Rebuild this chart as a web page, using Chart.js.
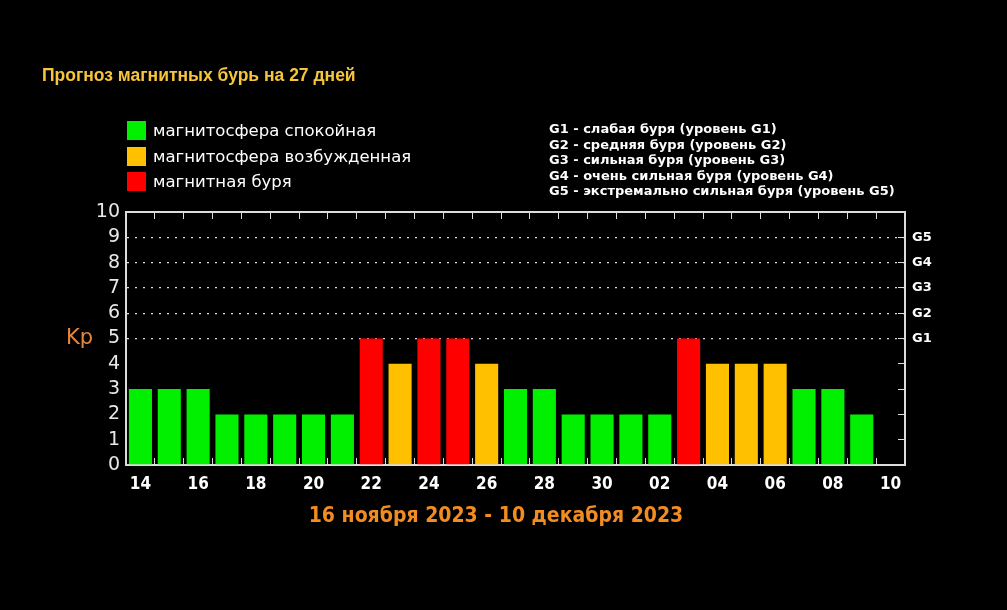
<!DOCTYPE html>
<html>
<head>
<meta charset="utf-8">
<script src="https://cdn.jsdelivr.net/npm/chart.js"></script>
<style>
  html, body { margin: 0; padding: 0; background: #000; }
  #wrap { position: relative; width: 1007px; height: 610px; overflow: hidden; background: #000; }
  #chart { position: absolute; left: 0; top: 0; }
  .title { position: absolute; left: 42px; top: 65px; color: #f7c53c; font: bold 17.5px "Liberation Sans", Arial, sans-serif; }
  .legend { position: absolute; left: 127px; top: 120px; color: #fff; font: 16.5px "DejaVu Sans", Verdana, sans-serif; }
  .legend div { height: 25.5px; line-height: 21px; white-space: nowrap; }
  .legend span { display: inline-block; width: 19px; height: 19px; vertical-align: -4px; margin-right: 7px; }
  .glegend { position: absolute; left: 549px; top: 121px; color: #fff; font: bold 13px "DejaVu Sans", Verdana, sans-serif; line-height: 15.5px; white-space: nowrap; }
  .kp { position: absolute; left: 66px; top: 325px; color: #e8873a; font: 21px "DejaVu Sans", sans-serif; }
  .dates { position: absolute; left: 296px; width: 400px; top: 503px; text-align: center; color: #f08c22; font: bold 21px "Liberation Sans Narrow", "DejaVu Sans Condensed", sans-serif; }
</style>
</head>
<body>
<div id="wrap">
  <canvas id="chart" width="1007" height="610"></canvas>
  <div class="title">Прогноз магнитных бурь на 27 дней</div>
  <div class="legend" id="legend"></div>
  <div class="glegend" id="glegend"></div>
  <div class="kp">Kp</div>
  <div class="dates" id="dates"></div>
</div>
<script>
// дни прогноза (ноябрь 14..30, декабрь 01..10)
const days = ["14","15","16","17","18","19","20","21","22","23","24","25","26","27","28","29","30","01","02","03","04","05","06","07","08","09","10"];
// индекс Kp по дням (последний день без данных)
const kpValues = [3,3,3,2,2,2,2,2,5,4,5,5,4,3,3,2,2,2,2,5,4,4,4,3,3,2,null];
const kpTicks = [0,1,2,3,4,5,6,7,8,9,10];
const stormLevels = ["G1","G2","G3","G4","G5"];
const stormKp = [5,6,7,8,9];
const stormNames = [
  "G1 - слабая буря (уровень G1)",
  "G2 - средняя буря (уровень G2)",
  "G3 - сильная буря (уровень G3)",
  "G4 - очень сильная буря (уровень G4)",
  "G5 - экстремально сильная буря (уровень G5)"
];
const legendNames = ["магнитосфера спокойная", "магнитосфера возбужденная", "магнитная буря"];
const dateRange = "16 ноября 2023 - 10 декабря 2023";

const GREEN = "#00f000", ORANGE = "#ffc000", RED = "#ff0000";
const legendColors = [GREEN, ORANGE, RED];

// цвет столбика по уровню Kp
function barColor(v) {
  if (v >= 5) return RED;
  if (v >= 4) return ORANGE;
  return GREEN;
}

document.getElementById("legend").innerHTML = legendNames
  .map((n, i) => `<div><span style="background:${legendColors[i]}"></span>${n}</div>`).join("");
document.getElementById("glegend").innerHTML = stormNames.map(n => `<div>${n}</div>`).join("");
document.getElementById("dates").textContent = dateRange;

const axisColor = "#dcdcdc";

new Chart(document.getElementById("chart"), {
  type: "bar",
  data: {
    labels: days,
    datasets: [{
      data: kpValues,
      backgroundColor: kpValues.map(barColor),
      borderWidth: 0,
      categoryPercentage: 1,
      barPercentage: 0.8
    }]
  },
  options: {
    responsive: false,
    animation: false,
    layout: { padding: { left: 80, right: 42, top: 212, bottom: 80 } },
    plugins: { legend: { display: false }, tooltip: { enabled: false } },
    scales: {
      x: {
        position: "bottom",
        afterFit: s => { s.height = 65; },
        grid: { offset: true, drawOnChartArea: false, tickLength: -7, tickColor: axisColor, tickWidth: 1 },
        border: { color: axisColor, width: 2 },
        ticks: {
          autoSkip: false, maxRotation: 0, padding: 16,
          color: "#fff",
          font: { family: "'Liberation Sans Narrow', 'DejaVu Sans Condensed', sans-serif", size: 17, weight: "bold" },
          callback: (v, i) => (i % 2 === 0 ? days[i] : "")
        }
      },
      x2: {
        position: "top",
        afterFit: s => { s.height = 0; },
        grid: { offset: true, drawOnChartArea: false, tickLength: -7, tickColor: axisColor, tickWidth: 1 },
        border: { color: axisColor, width: 2 },
        ticks: { display: false }
      },
      y: {
        position: "left",
        min: 0, max: 10,
        afterFit: s => { s.width = 46; },
        afterBuildTicks: s => { s.ticks = kpTicks.map(v => ({ value: v })); },
        grid: {
          drawTicks: false,
          color: c => (c.tick && c.tick.value >= 5 && c.tick.value <= 9 ? "#e0e0e0" : "rgba(0,0,0,0)"),
          lineWidth: 1.3
        },
        border: { color: axisColor, width: 2, dash: [2, 6] },
        ticks: {
          autoSkip: false,
          padding: 6,
          color: "#e8e8e8",
          font: { family: "'DejaVu Sans', sans-serif", size: 19 }
        }
      },
      y2: {
        position: "right",
        min: 0, max: 10,
        afterFit: s => { s.width = 60; },
        afterBuildTicks: s => { s.ticks = kpTicks.map(v => ({ value: v })); },
        grid: { drawOnChartArea: false, tickLength: -7, tickColor: axisColor, tickWidth: 1 },
        border: { color: axisColor, width: 2 },
        ticks: {
          autoSkip: false,
          padding: 14,
          color: "#fff",
          font: { family: "'DejaVu Sans', sans-serif", size: 13, weight: "bold" },
          callback: v => { const k = stormKp.indexOf(v); return k >= 0 ? stormLevels[k] : ""; }
        }
      }
    }
  }
});
</script>
</body>
</html>
